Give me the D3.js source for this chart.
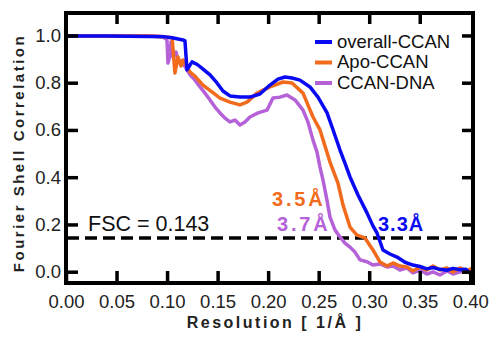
<!DOCTYPE html>
<html><head><meta charset="utf-8">
<script src="https://cdn.jsdelivr.net/npm/d3@7"></script>
<style>body{margin:0;background:#fff}svg{display:block}</style>
</head><body>
<svg id="c" width="489" height="339"></svg>
<script>
// ---- data ----
const xTicks = [0, 0.05, 0.10, 0.15, 0.20, 0.25, 0.30, 0.35, 0.40];
const yTicks = [0, 0.2, 0.4, 0.6, 0.8, 1.0];
const fscThreshold = 0.143;

const overallRes = [0,0.02,0.04,0.06,0.083,0.098,0.105,0.1157,0.1177,0.1197,0.1227,0.1247,0.1276,0.1306,0.1365,0.1425,0.1494,0.1553,0.1622,0.1721,0.182,0.1919,0.2018,0.2097,0.2167,0.2236,0.2315,0.2414,0.2493,0.2582,0.2642,0.2711,0.276,0.281,0.2889,0.2978,0.3037,0.3077,0.3136,0.3205,0.3275,0.3354,0.3433,0.3502,0.3571,0.3631,0.37,0.3769,0.3829,0.3898,0.3957,0.4027];
const overallFsc = [0.998,0.998,0.998,0.997,0.996,0.994,0.99,0.981,0.977,0.854,0.875,0.888,0.882,0.875,0.854,0.833,0.799,0.765,0.744,0.739,0.739,0.752,0.79,0.815,0.824,0.82,0.811,0.782,0.739,0.673,0.601,0.515,0.46,0.401,0.325,0.249,0.194,0.164,0.092,0.075,0.062,0.04,0.028,0.022,0.012,0.018,0.01,0.006,0.014,0.008,0.01,-0.018];

const apoRes = [0,0.04,0.083,0.098,0.105,0.1078,0.1108,0.1138,0.1157,0.1187,0.1227,0.1276,0.1355,0.1444,0.1524,0.1622,0.1721,0.1791,0.189,0.2018,0.2147,0.2236,0.2345,0.2444,0.2513,0.2612,0.2691,0.2741,0.281,0.2879,0.2958,0.3037,0.3107,0.3176,0.3235,0.3304,0.3374,0.3433,0.3502,0.3571,0.3631,0.37,0.3769,0.3829,0.3898,0.3957,0.4027];
const apoFsc = [0.998,0.998,0.998,0.994,0.99,0.841,0.909,0.871,0.896,0.875,0.845,0.828,0.79,0.761,0.735,0.718,0.706,0.718,0.756,0.782,0.803,0.799,0.756,0.655,0.6,0.464,0.375,0.282,0.189,0.155,0.143,0.092,0.041,0.024,0.037,0.024,0.02,0.003,0.02,0.007,0.024,0.007,0.016,-0.001,0.016,0.003,0.016];

const dnaRes = [0,0.04,0.083,0.096,0.0999,0.1009,0.1029,0.1039,0.1059,0.1088,0.1108,0.1148,0.1187,0.1227,0.1276,0.1326,0.1375,0.1425,0.1474,0.1524,0.1573,0.1622,0.1672,0.1721,0.1771,0.182,0.19,0.1989,0.2048,0.2117,0.2186,0.2266,0.2345,0.2394,0.2444,0.2483,0.2513,0.2543,0.2582,0.2612,0.2661,0.2711,0.276,0.281,0.2859,0.2909,0.2978,0.3037,0.3107,0.3176,0.3235,0.3304,0.3374,0.3433,0.3502,0.3571,0.3631,0.37,0.3769,0.3829,0.3898,0.3957];
const dnaFsc = [0.998,0.998,0.998,0.994,0.981,0.883,0.917,0.973,0.909,0.93,0.896,0.888,0.862,0.833,0.811,0.782,0.756,0.727,0.697,0.672,0.65,0.634,0.642,0.621,0.634,0.655,0.672,0.684,0.735,0.739,0.748,0.727,0.684,0.634,0.557,0.507,0.443,0.388,0.303,0.231,0.177,0.147,0.121,0.104,0.083,0.05,0.042,0.028,0.033,0.02,0.024,0.007,0.016,-0.005,0.007,-0.01,-0.001,-0.014,0.003,-0.01,-0.001,0.003];

const seriesNames = ["overall-CCAN", "Apo-CCAN", "CCAN-DNA"];
const seriesColors = ["#0a0af2", "#f26b1d", "#b562d9"];
const resLabels = ["3.3Å", "3.5Å", "3.7Å"];

// ---- layout ----
const svg = d3.select("#c");
const L = 66, R = 473, T = 13, B = 283;
const x = d3.scaleLinear().domain([0, 0.4027]).range([L, R]);
const y = d3.scaleLinear().domain([0, 1]).range([271.7, 35.45]);
const font = "Arial, 'Liberation Sans', Helvetica, sans-serif";

const series = [
  {res: overallRes, fsc: overallFsc},
  {res: apoRes, fsc: apoFsc},
  {res: dnaRes, fsc: dnaFsc}
];

// dashed threshold line
svg.append("line")
  .attr("x1", L + 1).attr("x2", R - 2)
  .attr("y1", y(fscThreshold)).attr("y2", y(fscThreshold))
  .attr("stroke", "#000").attr("stroke-width", 3.5)
  .attr("stroke-dasharray", "12,6");

// curves (draw DNA, Apo, overall so overall is on top)
const line = d3.line().x(d => x(d[0])).y(d => y(d[1]));
svg.append("defs").append("clipPath").attr("id", "clip")
  .append("rect").attr("x", L).attr("y", T).attr("width", R - L).attr("height", B - T);
[2, 1, 0].forEach(i => {
  const s = series[i];
  const pts = s.res.map((r, j) => [r, s.fsc[j]]);
  svg.append("path").datum(pts)
    .attr("d", line)
    .attr("clip-path", "url(#clip)")
    .attr("fill", "none")
    .attr("stroke", seriesColors[i])
    .attr("stroke-width", 3.5)
    .attr("stroke-linejoin", "round");
});

// axes
function styleAxis(g) {
  g.select(".domain").remove();
  g.selectAll(".tick line").attr("stroke", "#000").attr("stroke-width", 3.5);
  g.selectAll(".tick text").attr("fill", "#222").style("font-family", font).style("font-size", "18.5px");
}
svg.append("g").attr("transform", `translate(0,${B})`)
  .call(d3.axisBottom(x).tickValues(xTicks).tickSize(-12).tickPadding(12).tickFormat(d3.format(".2f")))
  .call(styleAxis);
svg.append("g").attr("transform", `translate(0,${T})`)
  .call(d3.axisTop(x).tickValues(xTicks.slice(1, -1)).tickSize(-11).tickFormat(""))
  .call(styleAxis);
svg.append("g").attr("transform", `translate(${L},0)`)
  .call(d3.axisLeft(y).tickValues(yTicks).tickSize(-12).tickPadding(5).tickFormat(d3.format(".1f")))
  .call(styleAxis);
svg.append("g").attr("transform", `translate(${R},0)`)
  .call(d3.axisRight(y).tickValues(yTicks).tickSize(-11).tickFormat(""))
  .call(styleAxis);

// frame
svg.append("rect").attr("x", L).attr("y", T).attr("width", R - L).attr("height", B - T)
  .attr("fill", "none").attr("stroke", "#000").attr("stroke-width", 4);

// axis titles
svg.append("text").attr("x", 275).attr("y", 328).attr("text-anchor", "middle")
  .style("font-family", font).style("font-size", "16px").style("font-weight", "bold")
  .style("letter-spacing", "2.5px").attr("fill", "#222")
  .text("Resolution [ 1/Å ]");
svg.append("text").attr("transform", "translate(24,153) rotate(-90)").attr("text-anchor", "middle")
  .style("font-family", font).style("font-size", "15px").style("font-weight", "bold")
  .style("letter-spacing", "2.5px").attr("fill", "#222")
  .text("Fourier Shell Correlation");

// FSC label
svg.append("text").attr("x", 88).attr("y", 231)
  .style("font-family", font).style("font-size", "21.5px").attr("fill", "#111")
  .text("FSC = 0.143");

// resolution labels
const resLabelPos = [[378, 231, 1], [272, 206, 2.8], [277, 231, 2.8]];
resLabels.forEach((t, i) => {
  svg.append("text").attr("x", resLabelPos[i][0]).attr("y", resLabelPos[i][1])
    .style("font-family", font).style("font-size", "20px").style("font-weight", "bold")
    .style("letter-spacing", resLabelPos[i][2] + "px")
    .attr("fill", seriesColors[i]).text(t);
});

// legend
seriesNames.forEach((n, i) => {
  const cy = 41 + i * 20.5;
  svg.append("line").attr("x1", 315).attr("x2", 332).attr("y1", cy + 1).attr("y2", cy + 1)
    .attr("stroke", seriesColors[i]).attr("stroke-width", 4);
  svg.append("text").attr("x", 337).attr("y", cy + 6.5)
    .style("font-family", font).style("font-size", "18.5px").attr("fill", "#111")
    .text(n);
});
</script>
</body></html>
